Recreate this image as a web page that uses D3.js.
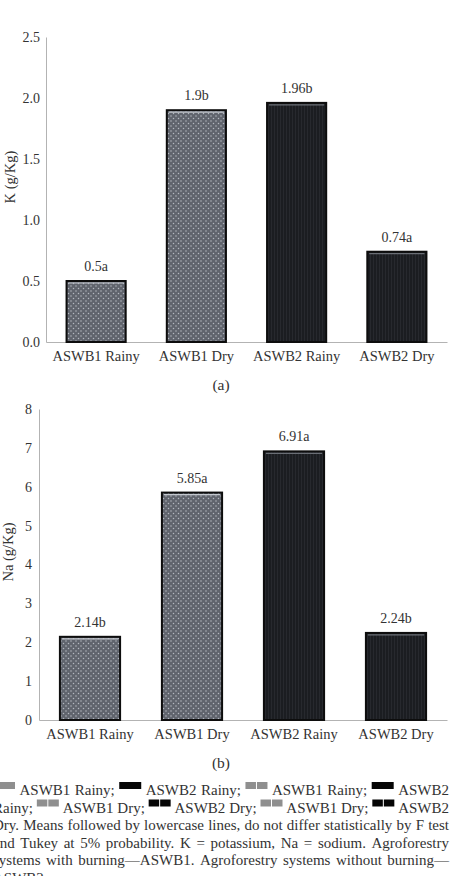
<!DOCTYPE html>
<html>
<head>
<meta charset="utf-8">
<script src="https://cdn.jsdelivr.net/npm/d3@7"></script>
<style>
  body { margin: 0; background: #fff; }
  svg { display: block; }
  text { font-family: "Liberation Serif", "DejaVu Serif", serif; fill: #333; }
</style>
</head>
<body>
<div id="chart"></div>
<script>
const categories = ["ASWB1 Rainy", "ASWB1 Dry", "ASWB2 Rainy", "ASWB2 Dry"];
const kValues = [0.5, 1.9, 1.96, 0.74];
const kLetters = ["a", "b", "b", "a"];
const kTicks = [0, 0.5, 1.0, 1.5, 2.0, 2.5];
const naValues = [2.14, 5.85, 6.91, 2.24];
const naLetters = ["b", "a", "a", "b"];
const naTicks = [0, 1, 2, 3, 4, 5, 6, 7, 8];
// which bars are the burned system (gray dotted) vs unburned (dark striped)
const barKind = ["dots", "dots", "stripes", "stripes"];

const captionLines = [
    [["sw", "gray", 1], "ASWB1", "Rainy;", ["sw", "black", 1], "ASWB2", "Rainy;", ["sw", "gray", 2], "ASWB1", "Rainy;", ["sw", "black", 1], "ASWB2"],
    ["Rainy;", ["sw", "gray", 2], "ASWB1", "Dry;", ["sw", "black", 2], "ASWB2", "Dry;", ["sw", "gray", 2], "ASWB1", "Dry;", ["sw", "black", 2], "ASWB2"],
    "Dry. Means followed by lowercase lines, do not differ statistically by F test".split(" "),
    "and Tukey at 5% probability. K = potassium, Na = sodium. Agroforestry".split(" "),
    "systems with burning\u2014ASWB1. Agroforestry systems without burning\u2014".split(" "),
    ["ASWB2."]
];

const width = 450, height = 876;
const svg = d3.select("#chart").append("svg")
    .attr("width", width)
    .attr("height", height);

// fill patterns
const defs = svg.append("defs");
let dots = defs.append("pattern")
    .attr("id", "dots")
    .attr("patternUnits", "userSpaceOnUse")
    .attr("width", 5).attr("height", 5);
dots.append("rect").attr("width", 5).attr("height", 5).attr("fill", "#60646d");
dots.append("circle").attr("cx", 1).attr("cy", 1).attr("r", 0.75).attr("fill", "#b4b8c0");
dots.append("circle").attr("cx", 3.5).attr("cy", 3.5).attr("r", 0.75).attr("fill", "#b4b8c0");

let stripes = defs.append("pattern")
    .attr("id", "stripes")
    .attr("patternUnits", "userSpaceOnUse")
    .attr("width", 3).attr("height", 3);
stripes.append("rect").attr("width", 3).attr("height", 3).attr("fill", "#1b1d21");
stripes.append("rect").attr("x", 1).attr("width", 0.6).attr("height", 3).attr("fill", "#2e3136");

function drawPanel(p) {
    let x = d3.scaleBand()
        .domain(categories)
        .range([p.x0, p.x1])
        .paddingInner(0.41)
        .paddingOuter(0.205);

    let y = d3.scaleLinear()
        .domain([0, p.max])
        .range([p.y0, p.y1]);

    let g = svg.append("g");

    // y axis: line + labels, no ticks
    let yAxis = g.append("g")
        .attr("transform", "translate(" + p.x0 + ",0)")
        .call(d3.axisLeft(y).tickValues(p.ticks).tickFormat(p.fmt).tickSize(0).tickPadding(p.tickPad));
    yAxis.select(".domain").attr("stroke", "#b3b3b3");
    yAxis.selectAll("text")
        .style("font-family", "Liberation Serif")
        .style("font-size", "14px")
        .attr("fill", "#3a3a3a");

    // x axis
    let xAxis = g.append("g")
        .attr("transform", "translate(0," + p.y0 + ")")
        .call(d3.axisBottom(x).tickSize(0).tickPadding(9).tickSizeOuter(0));
    xAxis.select(".domain").attr("stroke", "#b3b3b3");
    xAxis.selectAll("text")
        .style("font-family", "Liberation Serif")
        .style("font-size", "14.5px")
        .attr("fill", "#333");

    // bars
    let bars = g.selectAll(".bar")
        .data(p.values)
        .enter().append("g");

    bars.append("rect")
        .attr("x", (d, i) => x(categories[i]))
        .attr("y", d => y(d))
        .attr("width", x.bandwidth())
        .attr("height", d => p.y0 - y(d))
        .attr("fill", (d, i) => "url(#" + barKind[i] + ")")
        .attr("stroke", "#0d0d0d")
        .attr("stroke-width", 2);

    // light bevel along the top edge
    bars.append("line")
        .attr("x1", (d, i) => x(categories[i]) + 2)
        .attr("x2", (d, i) => x(categories[i]) + x.bandwidth() - 2)
        .attr("y1", d => y(d) + 2)
        .attr("y2", d => y(d) + 2)
        .attr("stroke", (d, i) => barKind[i] == "dots" ? "#c4c8cf" : "#6a6e75")
        .attr("stroke-width", 1.2);

    bars.append("text")
        .attr("x", (d, i) => x(categories[i]) + x.bandwidth() / 2)
        .attr("y", d => y(d) - 10)
        .attr("text-anchor", "middle")
        .style("font-size", "14px")
        .text((d, i) => d + p.letters[i]);

    // y title
    g.append("text")
        .attr("transform", "translate(" + p.titleX + "," + p.titleY + ") rotate(-90)")
        .attr("text-anchor", "middle")
        .attr("dy", "0.35em")
        .style("font-size", "14.5px")
        .text(p.title);

    // panel tag
    g.append("text")
        .attr("x", 221)
        .attr("y", p.tagY)
        .attr("text-anchor", "middle")
        .style("font-size", "15.5px")
        .attr("fill", "#222")
        .text(p.tag);
}

drawPanel({
    x0: 46, x1: 447, y0: 342, y1: 37, max: 2.5,
    ticks: kTicks, fmt: d3.format(".1f"), tickPad: 6,
    values: kValues, letters: kLetters,
    title: "K (g/Kg)", titleX: 10, titleY: 177,
    tag: "(a)", tagY: 390
});

drawPanel({
    x0: 39, x1: 447, y0: 720, y1: 409, max: 8,
    ticks: naTicks, fmt: d3.format("d"), tickPad: 7,
    values: naValues, letters: naLetters,
    title: "Na (g/Kg)", titleX: 8, titleY: 552,
    tag: "(b)", tagY: 768
});

// caption, justified between left/right edges
const capLeft = -7, capRight = 449, capTop = 795, capStep = 17.5;
const swW = 22, swH = 7;
let cap = svg.append("g").style("font-size", "15px");

captionLines.forEach((tokens, li) => {
    let yb = capTop + li * capStep;
    let items = tokens.map(t => {
        if (Array.isArray(t)) return { sw: true, color: t[1], n: t[2], w: swW };
        let el = cap.append("text").attr("y", yb).attr("fill", "#1a1a1a").text(t);
        return { sw: false, el: el, w: el.node().getComputedTextLength() };
    });
    let total = d3.sum(items, d => d.w);
    let gap = li == captionLines.length - 1 ? 4 : (capRight - capLeft - total) / (items.length - 1);
    let cx = capLeft;
    items.forEach(it => {
        if (it.sw) {
            let col = it.color == "gray" ? "#8f8f8f" : "#050505";
            if (it.n == 1) {
                cap.append("rect").attr("x", cx).attr("y", yb - 13).attr("width", swW).attr("height", swH).attr("fill", col);
            } else {
                cap.append("rect").attr("x", cx).attr("y", yb - 13).attr("width", swW / 2 - 0.5).attr("height", swH).attr("fill", col);
                cap.append("rect").attr("x", cx + swW / 2 + 0.5).attr("y", yb - 13).attr("width", swW / 2 - 0.5).attr("height", swH).attr("fill", col);
            }
        } else {
            it.el.attr("x", cx);
        }
        cx += it.w + gap;
    });
});
</script>
</body>
</html>
